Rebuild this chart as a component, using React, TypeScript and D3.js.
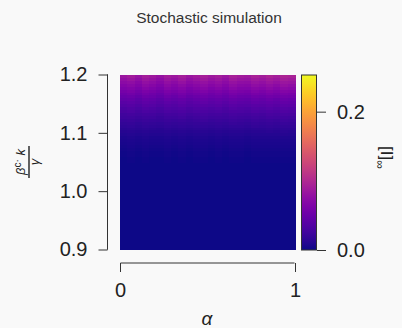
import { useEffect, useRef } from "react";
import * as d3 from "d3";

// Mean [I]∞ per row, bottom (β·k/γ = 0.9) to top (1.2), 60 rows of 0.005
const rowMeans = [
  0, 0, 0, 0, 0, 0, 0, 0, 0, 0,
  0, 0, 0, 0, 0, 0, 0, 0, 0, 0,
  0, 0, 0, 0, 0, 0, 0, 0, 0, 0,
  0.001, 0.001, 0.002, 0.002, 0.003, 0.004, 0.005, 0.006, 0.007, 0.009,
  0.011, 0.013, 0.016, 0.018, 0.021, 0.024, 0.027, 0.031, 0.034, 0.038,
  0.042, 0.046, 0.051, 0.056, 0.061, 0.066, 0.071, 0.076, 0.082, 0.088,
];
// Relative spread across α (left to right), read from the mottled texture
const colFactor = [
  0.95, 1.0, 0.92, 1.02, 0.97, 0.9, 1.01, 0.96, 1.03, 0.94, 0.99, 1.04,
  0.97, 1.02, 0.95, 1.05, 1.0, 0.98, 1.06, 1.02, 1.08, 1.03, 1.1, 1.07,
];
const yTicks = [0.9, 1.0, 1.1, 1.2];
const xTicks = [0, 1];
const cbarTicks = [0.0, 0.2];
const cbarMax = 0.253;

const W = 402;
const H = 328;
const FONT = "'Liberation Sans', Arial, sans-serif";

export default function App() {
  const ref = useRef<SVGSVGElement>(null);

  useEffect(() => {
    const svg = d3.select(ref.current);
    svg.selectAll("*").remove();

    svg.append("rect").attr("width", W).attr("height", H).attr("fill", "#f9f9f9");

    const x = d3.scaleLinear().domain([0, 1]).range([120, 295]);
    const y = d3.scaleLinear().domain([0.9, 1.2]).range([249.5, 74.5]);
    const color = d3.scaleSequential(d3.interpolatePlasma).domain([0, cbarMax]);

    const nRows = rowMeans.length;
    const nCols = colFactor.length;
    const cells: { r: number; c: number; v: number }[] = [];
    rowMeans.forEach((m, r) => colFactor.forEach((f, c) => cells.push({ r, c, v: m * f })));

    const heat = svg.append("g").attr("shape-rendering", "crispEdges");
    heat.selectAll("rect").data(cells).enter().append("rect")
      .attr("x", d => x(d.c / nCols))
      .attr("width", x(1 / nCols) - x(0) + 0.5)
      .attr("y", d => y(0.9 + (d.r + 1) * 0.3 / nRows))
      .attr("height", y(0.9) - y(0.9 + 0.3 / nRows) + 0.5)
      .attr("fill", d => color(d.v));

    // Y axis (offset to the left)
    const yAxis = svg.append("g").attr("transform", "translate(107.5,0)")
      .call(d3.axisLeft(y).tickValues(yTicks).tickFormat(d3.format(".1f")).tickSize(9).tickPadding(11));
    yAxis.select(".domain").attr("d", `M-0.5,${y(0.9)}H0V${y(1.2)}H-0.5`);
    yAxis.selectAll("line").attr("stroke", "#333");
    yAxis.select(".domain").attr("stroke", "#333");
    yAxis.selectAll("text").attr("font-family", FONT).attr("font-size", 20).attr("fill", "#222");

    // X axis (offset below)
    const xAxis = svg.append("g").attr("transform", "translate(0,263)")
      .call(d3.axisBottom(x).tickValues(xTicks).tickFormat(d3.format("d")).tickSize(9).tickPadding(11));
    xAxis.selectAll("line").attr("stroke", "#333");
    xAxis.select(".domain").attr("stroke", "#333").attr("d", `M${x(0) + 0.5},0V0H${x(1) - 0.5}V0`);
    xAxis.selectAll("text").attr("font-family", FONT).attr("font-size", 20).attr("fill", "#222");

    // Colour bar
    const cb = d3.scaleLinear().domain([0, cbarMax]).range([250, 75]);
    const defs = svg.append("defs");
    const grad = defs.append("linearGradient").attr("id", "plasma").attr("x1", 0).attr("y1", 1).attr("x2", 0).attr("y2", 0);
    d3.range(0, 1.0001, 0.05).forEach(t =>
      grad.append("stop").attr("offset", t).attr("stop-color", d3.interpolatePlasma(t)));
    svg.append("rect").attr("x", 301.5).attr("y", 75).attr("width", 15).attr("height", 175)
      .attr("fill", "url(#plasma)").attr("stroke", "#333").attr("stroke-width", 1);
    const cAxis = svg.append("g").attr("transform", "translate(317,0)")
      .call(d3.axisRight(cb).tickValues(cbarTicks).tickFormat(d3.format(".1f")).tickSize(9).tickPadding(11));
    cAxis.select(".domain").remove();
    cAxis.selectAll("line").attr("stroke", "#333");
    cAxis.selectAll("text").attr("font-family", FONT).attr("font-size", 20).attr("fill", "#222");

    // Title
    svg.append("text").attr("x", 209).attr("y", 23).attr("text-anchor", "middle")
      .attr("font-family", FONT).attr("font-size", 15.5).attr("fill", "#333").text("Stochastic simulation");

    // X label
    svg.append("text").attr("x", 207).attr("y", 325).attr("text-anchor", "middle")
      .attr("font-family", FONT).attr("font-style", "italic").attr("font-size", 19).attr("fill", "#222").text("α");

    // Y label: fraction β^c·k / γ
    const yl = svg.append("g").attr("transform", "translate(29,162) rotate(-90)");
    yl.append("line").attr("x1", -16).attr("x2", 16).attr("y1", 0).attr("y2", 0).attr("stroke", "#222").attr("stroke-width", 1.4);
    const num = yl.append("text").attr("x", 0).attr("y", -4).attr("text-anchor", "middle")
      .attr("font-family", FONT).attr("font-style", "italic").attr("font-size", 13).attr("fill", "#222");
    num.append("tspan").text("β");
    num.append("tspan").attr("dy", -4).attr("font-size", 10).attr("font-style", "normal").text("c·");
    num.append("tspan").attr("dy", 4).text(" k");
    yl.append("text").attr("x", 0).attr("y", 10).attr("text-anchor", "middle")
      .attr("font-family", FONT).attr("font-style", "italic").attr("font-size", 13).attr("fill", "#222").text("γ");

    // Colour bar label: [I]∞
    const cl = svg.append("g").attr("transform", "translate(381,146) rotate(90)");
    const lab = cl.append("text").attr("x", 0).attr("y", 0)
      .attr("font-family", FONT).attr("font-size", 17).attr("fill", "#222");
    lab.append("tspan").text("[I]");
    lab.append("tspan").attr("dy", 5).attr("font-size", 12).text("∞");
  }, []);

  return (
    <div style={{ position: "absolute", left: 0, top: 0 }}>
      <svg ref={ref} width={W} height={H} style={{ display: "block" }} />
    </div>
  );
}
